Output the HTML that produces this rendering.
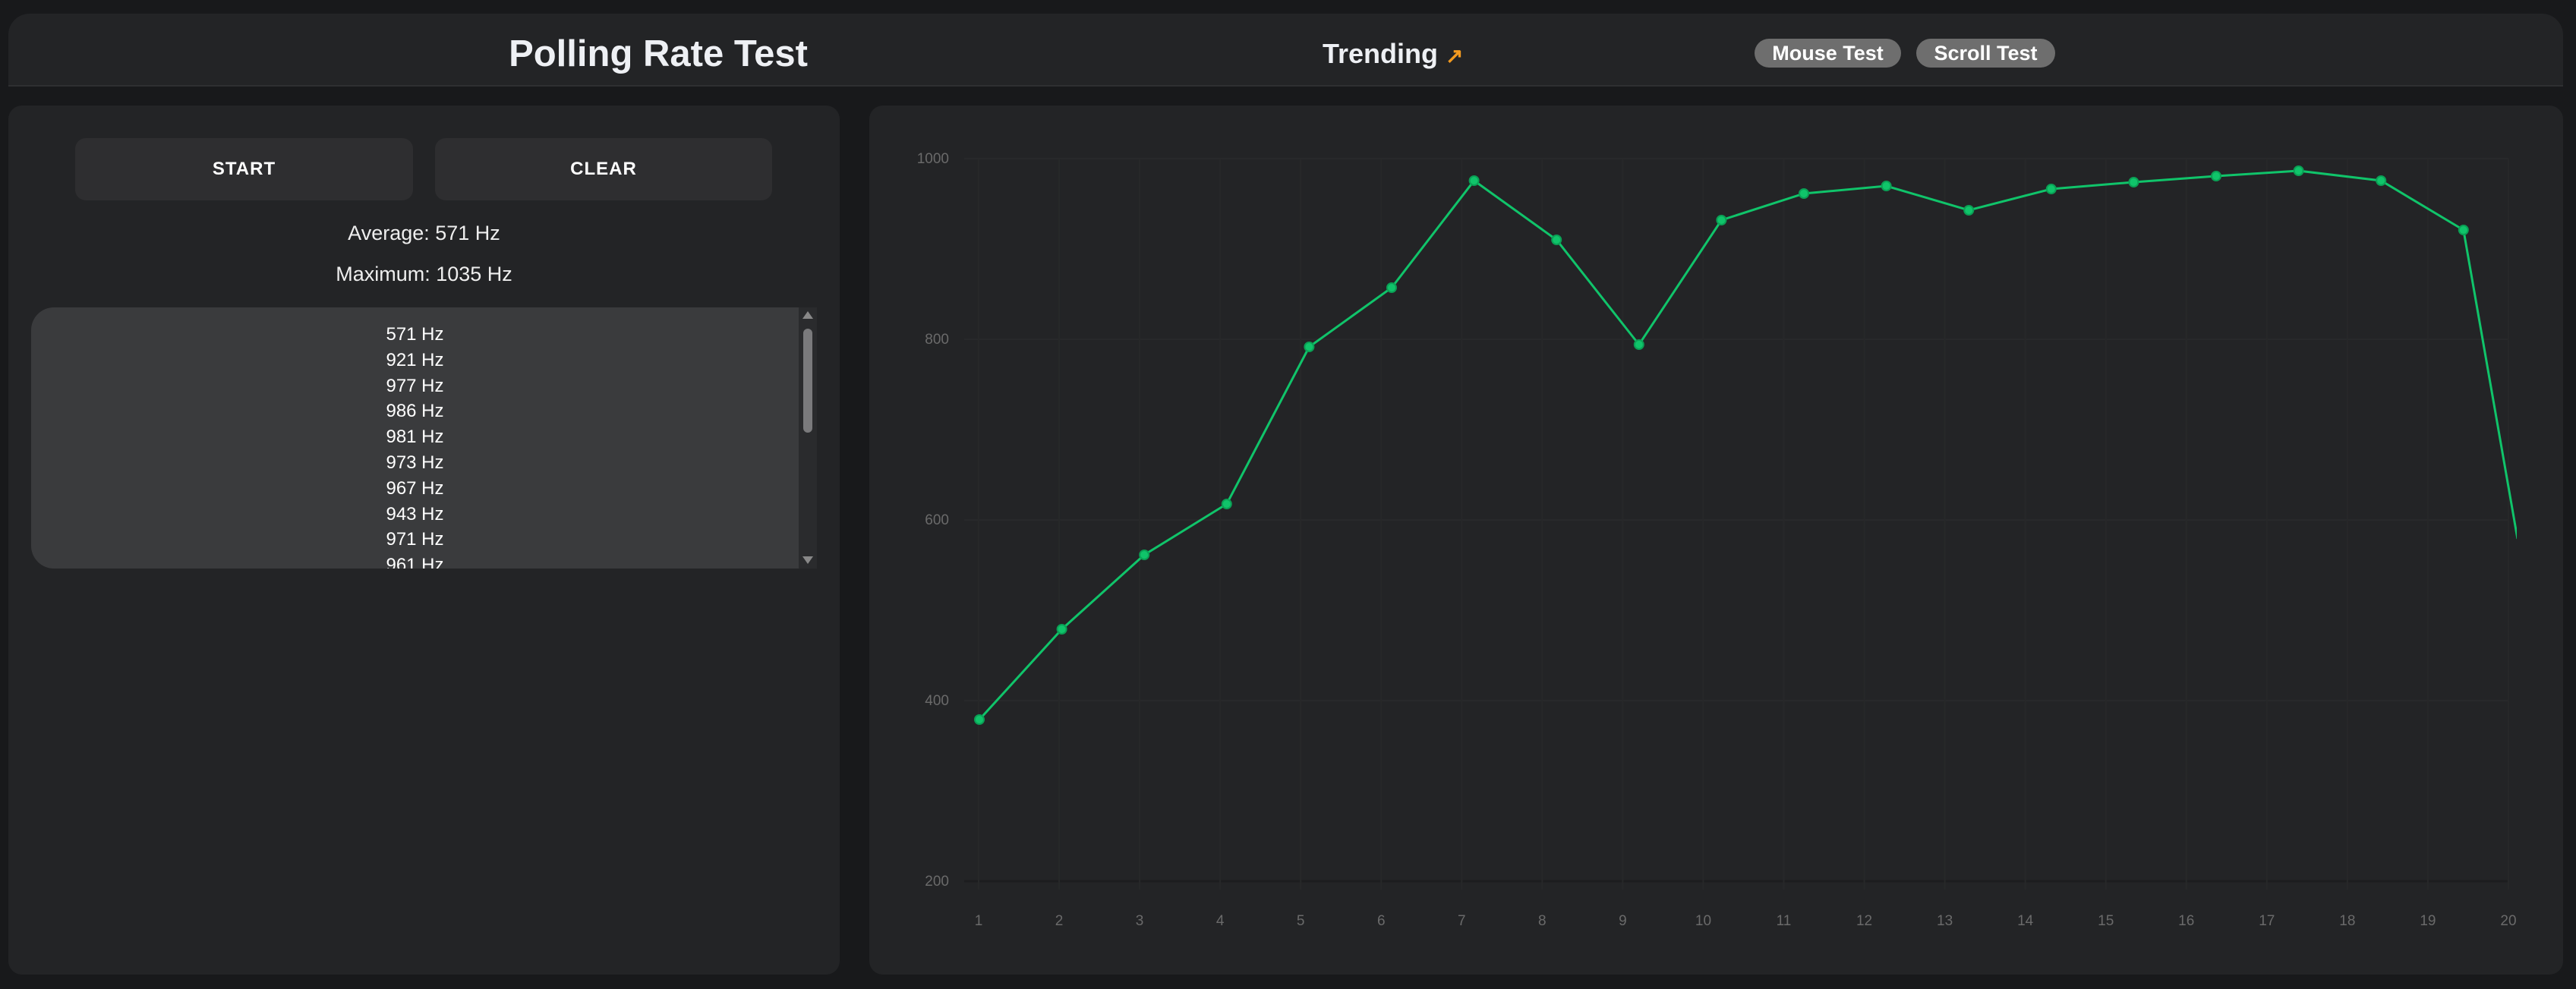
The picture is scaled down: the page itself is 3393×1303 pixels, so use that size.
<!DOCTYPE html>
<html><head><meta charset="utf-8"><style>
*{margin:0;padding:0;box-sizing:border-box}
body{width:3393px;height:1303px;background:#18191b;font-family:"Liberation Sans",sans-serif;position:relative;overflow:hidden;color:#eee}
.abs{position:absolute}
.header{left:11px;top:18px;width:3365px;height:96px;background:#232426;border-radius:28px 28px 0 0;border-bottom:2px solid #2e2f31}
.panel{background:#232426;border-radius:18px}
.btn{background:#2e2e30;border-radius:14px;font-weight:bold;font-size:24px;color:#fff;display:flex;align-items:center;justify-content:center;letter-spacing:1px}
.pill{background:#6e6e6e;border-radius:20px;font-weight:bold;font-size:27px;color:#fff;display:flex;align-items:center;justify-content:center}
.list{left:41px;top:405px;width:1011px;height:344px;background:#3a3b3d;border-radius:30px 0 0 30px;overflow:hidden}
.list div{text-align:center;font-size:24px;height:33.8px;line-height:33.8px;color:#fff}
</style></head><body>
<div class="abs header"></div>
<div class="abs" style="left:0;width:1734px;top:43px;text-align:center;font-size:49px;font-weight:bold;color:#eef0f4">Polling Rate Test</div>
<div class="abs" style="left:1742px;top:50px;font-size:36px;font-weight:bold;color:#eef0f4">Trending <span style="color:#f39a20;font-size:28px">↗</span></div>
<div class="abs pill" style="left:2311px;top:51px;width:193px;height:38px">Mouse Test</div>
<div class="abs pill" style="left:2524px;top:51px;width:183px;height:38px">Scroll Test</div>

<div class="abs panel" style="left:11px;top:139px;width:1095px;height:1145px"></div>
<div class="abs btn" style="left:99px;top:182px;width:445px;height:82px">START</div>
<div class="abs btn" style="left:573px;top:182px;width:444px;height:82px">CLEAR</div>
<div class="abs" style="left:11px;width:1095px;top:292px;text-align:center;font-size:27px">Average: 571 Hz</div>
<div class="abs" style="left:11px;width:1095px;top:346px;text-align:center;font-size:27px">Maximum: 1035 Hz</div>
<div class="abs list"><div style="height:19px"></div>
<div>571 Hz</div><div>921 Hz</div><div>977 Hz</div><div>986 Hz</div><div>981 Hz</div><div>973 Hz</div><div>967 Hz</div><div>943 Hz</div><div>971 Hz</div><div>961 Hz</div></div>
<div class="abs" style="left:1052px;top:405px;width:24px;height:344px;background:#2a2b2d"></div>
<div class="abs" style="left:1058px;top:433px;width:12px;height:137px;background:#7a7a7c;border-radius:6px"></div>
<div class="abs" style="left:1057px;top:410px;width:0;height:0;border-left:7px solid transparent;border-right:7px solid transparent;border-bottom:10px solid #888"></div>
<div class="abs" style="left:1057px;top:733px;width:0;height:0;border-left:7px solid transparent;border-right:7px solid transparent;border-top:10px solid #888"></div>

<div class="abs panel" style="left:1145px;top:139px;width:2231px;height:1145px"></div>
<svg class="abs" style="left:0;top:0" width="3393" height="1303">
<defs><clipPath id="c"><rect x="1145" y="139" width="2170" height="1145"/></clipPath></defs>
<g stroke="#28292b" stroke-width="2">
<line x1="1270" y1="209" x2="3304" y2="209"/><line x1="1270" y1="447" x2="3304" y2="447"/><line x1="1270" y1="685" x2="3304" y2="685"/><line x1="1270" y1="923" x2="3304" y2="923"/><line x1="1270" y1="1161" x2="3304" y2="1161" stroke="#1c1d1f" stroke-width="3"/>
</g>
<g stroke="#272829" stroke-width="2" id="vg"></g>
<g font-size="19" fill="#6a6a6a" text-anchor="end" font-family="Liberation Sans">
<text x="1250" y="215">1000</text><text x="1250" y="453">800</text><text x="1250" y="691">600</text><text x="1250" y="929">400</text><text x="1250" y="1167">200</text>
</g>
<g id="xl" font-size="19" fill="#6a6a6a" text-anchor="middle" font-family="Liberation Sans"></g>
<g clip-path="url(#c)">
<polyline fill="none" stroke="#10c46a" stroke-width="3" points="1290,948 1398.6,829 1507.2,731 1615.8,664 1724.4,457 1833,379 1941.6,238 2050.2,316 2158.8,454 2267.4,290 2376,255 2484.6,245 2593.2,277 2701.8,249 2810.4,240 2919,232 3027.6,225 3136.2,238 3244.8,303 3316,710"/>
</g>
<g id="pts" fill="#10c46a" stroke="#0aa055" stroke-width="2"></g>
</svg>
<script>
var vg=document.getElementById('vg'),xl=document.getElementById('xl'),ns='http://www.w3.org/2000/svg';
for(var i=0;i<20;i++){var x=1289+106.05*i;var l=document.createElementNS(ns,'line');l.setAttribute('x1',x);l.setAttribute('x2',x);l.setAttribute('y1',209);l.setAttribute('y2',1172);vg.appendChild(l);
var t=document.createElementNS(ns,'text');t.setAttribute('x',x);t.setAttribute('y',1219);t.textContent=i+1;xl.appendChild(t);}
var ys=[948,829,731,664,457,379,238,316,454,290,255,245,277,249,240,232,225,238,303],p=document.getElementById('pts');
ys.forEach(function(y,i){var c=document.createElementNS(ns,'circle');c.setAttribute('cx',1290+108.6*i);c.setAttribute('cy',y);c.setAttribute('r',6);p.appendChild(c);});
</script>
</body></html>
